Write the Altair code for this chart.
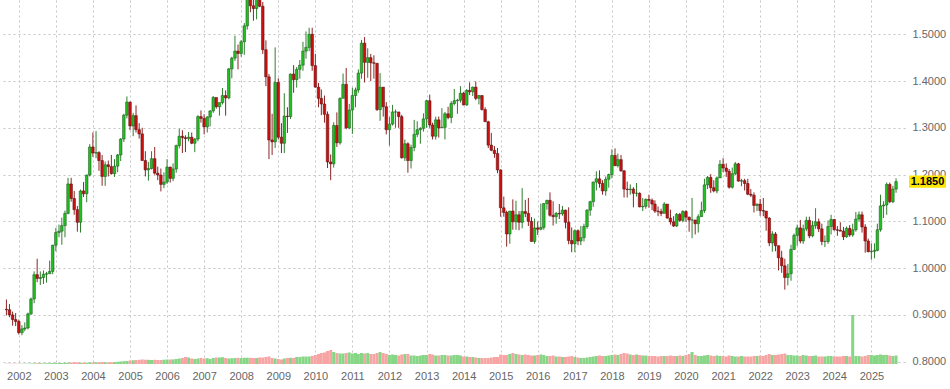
import altair as alt
import pandas as pd

# Monthly EUR/USD candles, Sep 2001 .. Sep 2025
FIRST_OPEN = 0.9120
CLOSE = [
    0.9110, 0.9000, 0.8900, 0.8860,  # 2001 Sep-Dec
    0.8620, 0.8700, 0.8720, 0.9020, 0.9340, 0.9860, 0.9780, 0.9800, 0.9870, 0.9880, 0.9930, 1.0490,
    1.0760, 1.0790, 1.0910, 1.1170, 1.1800, 1.1490, 1.1250, 1.0980, 1.1650, 1.1590, 1.1990, 1.2590,
    1.2460, 1.2470, 1.2300, 1.1960, 1.2210, 1.2170, 1.2020, 1.2180, 1.2420, 1.2760, 1.3270, 1.3550,
    1.3040, 1.3260, 1.2960, 1.2870, 1.2300, 1.2100, 1.2130, 1.2340, 1.2030, 1.1990, 1.1790, 1.1840,
    1.2160, 1.1920, 1.2120, 1.2620, 1.2820, 1.2790, 1.2770, 1.2800, 1.2670, 1.2760, 1.3240, 1.3200,
    1.3020, 1.3230, 1.3360, 1.3650, 1.3450, 1.3540, 1.3690, 1.3640, 1.4260, 1.4490, 1.4640, 1.4590,
    1.4840, 1.5180, 1.5790, 1.5610, 1.5550, 1.5760, 1.5600, 1.4670, 1.4090, 1.2740, 1.2700, 1.3970,
    1.2800, 1.2670, 1.3250, 1.3240, 1.4150, 1.4030, 1.4250, 1.4340, 1.4640, 1.4720, 1.5000, 1.4330,
    1.3870, 1.3630, 1.3510, 1.3290, 1.2270, 1.2230, 1.3050, 1.2680, 1.3630, 1.3930, 1.3000, 1.3380,
    1.3690, 1.3810, 1.4170, 1.4810, 1.4400, 1.4500, 1.4390, 1.4380, 1.3390, 1.3870, 1.3450, 1.2960,
    1.3080, 1.3340, 1.3340, 1.3240, 1.2360, 1.2660, 1.2300, 1.2580, 1.2860, 1.2960, 1.2990, 1.3190,
    1.3580, 1.3060, 1.2820, 1.3170, 1.3000, 1.3010, 1.3300, 1.3220, 1.3520, 1.3580, 1.3590, 1.3740,
    1.3490, 1.3800, 1.3770, 1.3870, 1.3630, 1.3690, 1.3390, 1.3130, 1.2630, 1.2520, 1.2450, 1.2100,
    1.1290, 1.1190, 1.0730, 1.1220, 1.0990, 1.1140, 1.0980, 1.1210, 1.1170, 1.1000, 1.0570, 1.0860,
    1.0830, 1.0870, 1.1380, 1.1450, 1.1130, 1.1100, 1.1170, 1.1160, 1.1240, 1.0980, 1.0590, 1.0520,
    1.0800, 1.0580, 1.0650, 1.0890, 1.1240, 1.1420, 1.1840, 1.1910, 1.1810, 1.1650, 1.1900, 1.2000,
    1.2410, 1.2190, 1.2320, 1.2080, 1.1690, 1.1680, 1.1690, 1.1600, 1.1600, 1.1310, 1.1320, 1.1470,
    1.1450, 1.1370, 1.1220, 1.1210, 1.1170, 1.1370, 1.1070, 1.0990, 1.0900, 1.1150, 1.1020, 1.1210,
    1.1090, 1.1030, 1.1030, 1.0950, 1.1100, 1.1230, 1.1780, 1.1940, 1.1720, 1.1650, 1.1930, 1.2220,
    1.2140, 1.2070, 1.1730, 1.2020, 1.2230, 1.1860, 1.1870, 1.1810, 1.1580, 1.1560, 1.1340, 1.1370,
    1.1230, 1.1220, 1.1070, 1.0540, 1.0730, 1.0480, 1.0220, 1.0050, 0.9800, 0.9880, 1.0400, 1.0700,
    1.0860, 1.0580, 1.0840, 1.1020, 1.0690, 1.0910, 1.0990, 1.0840, 1.0570, 1.0570, 1.0890, 1.1040,
    1.0820, 1.0810, 1.0790, 1.0670, 1.0850, 1.0710, 1.0820, 1.1050, 1.1140, 1.0880, 1.0580, 1.0350,
    1.0360, 1.0380, 1.0820, 1.1330, 1.1350, 1.1790, 1.1420, 1.1690, 1.1850,
]
HIGH = [
    0.9330, 0.9230, 0.9070, 0.9040,
    0.8900, 0.8780, 0.8840, 0.9050, 0.9370, 0.9930, 1.0200, 0.9930, 0.9950, 0.9920, 1.0160, 1.0500,
    1.0860, 1.0930, 1.1080, 1.1230, 1.1930, 1.1930, 1.1650, 1.1330, 1.1680, 1.1840, 1.2000, 1.2650,
    1.2900, 1.2930, 1.2500, 1.2420, 1.2280, 1.2300, 1.2420, 1.2330, 1.2440, 1.2780, 1.3300, 1.3670,
    1.3560, 1.3320, 1.3480, 1.3100, 1.3000, 1.2500, 1.2270, 1.2500, 1.2590, 1.2170, 1.2130, 1.2050,
    1.2330, 1.2170, 1.2240, 1.2640, 1.2980, 1.2950, 1.2840, 1.2910, 1.2900, 1.2780, 1.3270, 1.3370,
    1.3290, 1.3250, 1.3380, 1.3680, 1.3610, 1.3540, 1.3850, 1.3800, 1.4280, 1.4520, 1.4970, 1.4780,
    1.4880, 1.5240, 1.5900, 1.6020, 1.5820, 1.5840, 1.6040, 1.5690, 1.4870, 1.4150, 1.3300, 1.4720,
    1.4060, 1.3100, 1.3740, 1.3440, 1.4160, 1.4340, 1.4300, 1.4450, 1.4840, 1.5060, 1.5140, 1.5140,
    1.4580, 1.3960, 1.3820, 1.3690, 1.3350, 1.2430, 1.3120, 1.3330, 1.3650, 1.4160, 1.4280, 1.3510,
    1.3860, 1.3860, 1.4250, 1.4880, 1.4940, 1.4700, 1.4580, 1.4550, 1.4380, 1.4170, 1.3870, 1.3550,
    1.3230, 1.3490, 1.3390, 1.3280, 1.3280, 1.2750, 1.2690, 1.2640, 1.3170, 1.3140, 1.3010, 1.3310,
    1.3600, 1.3710, 1.3110, 1.3240, 1.3240, 1.3420, 1.3340, 1.3450, 1.3570, 1.3830, 1.3620, 1.3890,
    1.3770, 1.3830, 1.3970, 1.3880, 1.3990, 1.3700, 1.3700, 1.3440, 1.3150, 1.2890, 1.2610, 1.2570,
    1.2110, 1.1530, 1.1230, 1.1220, 1.1470, 1.1440, 1.1220, 1.1710, 1.1460, 1.1500, 1.1090, 1.1060,
    1.1000, 1.1380, 1.1390, 1.1460, 1.1620, 1.1430, 1.1200, 1.1370, 1.1330, 1.1250, 1.1300, 1.0870,
    1.0830, 1.0830, 1.0900, 1.0950, 1.1260, 1.1440, 1.1850, 1.2070, 1.2090, 1.1880, 1.1960, 1.2020,
    1.2540, 1.2560, 1.2450, 1.2420, 1.2100, 1.1850, 1.1790, 1.1730, 1.1820, 1.1620, 1.1500, 1.1490,
    1.1570, 1.1490, 1.1450, 1.1320, 1.1270, 1.1410, 1.1290, 1.1250, 1.1110, 1.1180, 1.1180, 1.1240,
    1.1240, 1.1100, 1.1500, 1.1000, 1.1150, 1.1420, 1.1910, 1.1970, 1.2010, 1.1880, 1.1960, 1.2310,
    1.2350, 1.2240, 1.2120, 1.2150, 1.2270, 1.2250, 1.1910, 1.1910, 1.1910, 1.1690, 1.1620, 1.1380,
    1.1480, 1.1500, 1.1190, 1.1090, 1.0790, 1.0770, 1.0480, 1.0370, 1.0200, 1.0090, 1.0500, 1.0740,
    1.0930, 1.1030, 1.0930, 1.1100, 1.1100, 1.1010, 1.1280, 1.1060, 1.0950, 1.0700, 1.1020, 1.1140,
    1.1050, 1.0900, 1.0980, 1.0880, 1.0890, 1.0920, 1.0950, 1.1200, 1.1210, 1.1210, 1.0940, 1.0630,
    1.0530, 1.0530, 1.0950, 1.1570, 1.1430, 1.1830, 1.1830, 1.1760, 1.1920,
]
LOW = [
    0.8990, 0.8950, 0.8770, 0.8760,
    0.8580, 0.8565, 0.8650, 0.8690, 0.9000, 0.9250, 0.9700, 0.9640, 0.9660, 0.9690, 0.9880, 0.9870,
    1.0360, 1.0660, 1.0500, 1.0660, 1.1150, 1.1420, 1.1140, 1.0780, 1.0760, 1.1520, 1.1410, 1.1960,
    1.2380, 1.2350, 1.2080, 1.1760, 1.1760, 1.1960, 1.2000, 1.1950, 1.2050, 1.2290, 1.2700, 1.3200,
    1.2950, 1.2820, 1.2900, 1.2770, 1.2300, 1.1960, 1.1870, 1.2110, 1.2000, 1.1880, 1.1640, 1.1710,
    1.1800, 1.1830, 1.1860, 1.2040, 1.2560, 1.2460, 1.2480, 1.2710, 1.2650, 1.2480, 1.2710, 1.3110,
    1.2860, 1.2900, 1.3030, 1.3320, 1.3410, 1.3260, 1.3500, 1.3260, 1.3610, 1.4060, 1.4430, 1.4250,
    1.4520, 1.4560, 1.5100, 1.5470, 1.5290, 1.5320, 1.5580, 1.4580, 1.3890, 1.2330, 1.2420, 1.2570,
    1.2750, 1.2460, 1.2460, 1.2890, 1.3190, 1.3750, 1.3860, 1.4050, 1.4220, 1.4480, 1.4640, 1.4220,
    1.3860, 1.3440, 1.3270, 1.3110, 1.2140, 1.1880, 1.2150, 1.2590, 1.2640, 1.3690, 1.2970, 1.2970,
    1.2870, 1.3440, 1.3750, 1.4050, 1.3970, 1.4070, 1.4000, 1.4050, 1.3360, 1.3150, 1.3240, 1.2860,
    1.2620, 1.3050, 1.3000, 1.3000, 1.2340, 1.2290, 1.2040, 1.2130, 1.2500, 1.2800, 1.2660, 1.2920,
    1.3000, 1.3000, 1.2750, 1.2750, 1.2790, 1.3000, 1.2750, 1.3180, 1.3100, 1.3480, 1.3300, 1.3540,
    1.3480, 1.3470, 1.3700, 1.3680, 1.3590, 1.3500, 1.3370, 1.3130, 1.2570, 1.2500, 1.2360, 1.2030,
    1.1100, 1.1100, 1.0460, 1.0520, 1.0820, 1.0820, 1.0810, 1.0850, 1.1090, 1.0900, 1.0570, 1.0520,
    1.0710, 1.0810, 1.0820, 1.1250, 1.1100, 1.0910, 1.0950, 1.1050, 1.1120, 1.0850, 1.0510, 1.0340,
    1.0340, 1.0490, 1.0490, 1.0570, 1.0840, 1.1120, 1.1310, 1.1660, 1.1720, 1.1570, 1.1550, 1.1720,
    1.1920, 1.2180, 1.2150, 1.2060, 1.1510, 1.1510, 1.1570, 1.1300, 1.1530, 1.1300, 1.1220, 1.1270,
    1.1290, 1.1240, 1.1180, 1.1110, 1.1110, 1.1180, 1.1060, 1.0930, 1.0880, 1.0880, 1.0990, 1.0980,
    1.0990, 1.0780, 1.0640, 1.0720, 1.0760, 1.1100, 1.1180, 1.1690, 1.1610, 1.1620, 1.1600, 1.1930,
    1.2050, 1.1950, 1.1700, 1.1700, 1.1990, 1.1850, 1.1750, 1.1660, 1.1560, 1.1520, 1.1190, 1.1220,
    1.1120, 1.1110, 1.0800, 1.0470, 1.0350, 1.0360, 0.9950, 0.9900, 0.9540, 0.9630, 0.9730, 1.0390,
    1.0480, 1.0530, 1.0520, 1.0790, 1.0640, 1.0660, 1.0840, 1.0770, 1.0490, 1.0450, 1.0520, 1.0720,
    1.0800, 1.0690, 1.0790, 1.0600, 1.0650, 1.0670, 1.0670, 1.0780, 1.1000, 1.0760, 1.0330, 1.0340,
    1.0180, 1.0210, 1.0360, 1.0780, 1.1070, 1.1140, 1.1390, 1.1390, 1.1610,
]
# relative monthly volume (arbitrary units)
VOLUME = [
    0.3, 0.3, 0.3, 0.3,
    0.3, 0.3, 0.3, 0.4, 0.5, 0.6, 0.8, 0.8, 0.6, 0.7, 0.8, 0.9,
    1.0, 1.0, 1.0, 1.2, 1.3, 1.5, 1.8, 1.6, 1.2, 1.2, 1.3, 1.5,
    1.6, 1.7, 1.8, 2.0, 1.8, 1.6, 1.8, 2.0, 2.2, 2.5, 2.8, 3.0,
    3.5, 3.8, 4.0, 4.2, 4.5, 4.3, 4.2, 4.0, 4.2, 4.0, 4.0, 4.3,
    4.5, 4.5, 4.6, 5.0, 5.5, 6.0, 7.0, 6.5, 5.5, 5.0, 5.5, 6.0,
    5.5, 5.8, 5.0, 6.0, 6.5, 6.5, 6.8, 6.0, 5.5, 5.8, 6.0, 6.2,
    6.0, 6.2, 6.3, 6.2, 6.0, 6.0, 6.5, 6.5, 7.0, 7.5, 6.0, 5.5,
    5.0, 4.5, 5.5, 6.0, 6.2, 6.0, 7.0, 7.0, 7.5, 7.5, 7.5, 8.0,
    9.0, 10.0, 11.0, 11.5, 13.0, 14.0, 12.0, 11.0, 10.5, 10.5, 11.0, 11.5,
    10.5, 11.0, 10.0, 11.0, 10.5, 11.0, 10.0, 10.0, 11.0, 12.0, 11.0, 10.0,
    9.0, 9.5, 9.0, 8.5, 9.5, 10.0, 10.0, 8.5, 8.5, 8.0, 8.5, 9.0,
    9.0, 10.0, 9.5, 8.5, 8.5, 9.0, 9.0, 8.5, 8.5, 9.0, 9.0, 8.5,
    7.5, 7.5, 7.0, 7.0, 6.5, 6.0, 6.0, 6.0, 6.0, 6.5, 7.0, 7.0,
    9.5, 9.0, 9.0, 10.0, 11.0, 10.0, 9.5, 9.0, 9.5, 9.0, 8.5, 8.5,
    9.0, 9.5, 9.0, 8.0, 8.0, 8.5, 7.5, 7.5, 7.0, 7.0, 7.5, 8.0,
    7.0, 6.5, 6.0, 6.0, 6.5, 7.0, 7.5, 8.0, 8.5, 8.0, 8.0, 8.5,
    9.0, 9.5, 9.0, 10.0, 11.0, 10.5, 9.5, 9.0, 9.5, 9.0, 8.5, 8.5,
    8.0, 8.0, 8.0, 7.5, 8.0, 8.0, 8.0, 8.5, 8.0, 8.0, 8.5, 8.0,
    9.0, 10.0, 12.0, 9.0, 8.0, 8.0, 8.5, 9.0, 8.5, 8.0, 8.5, 8.0,
    8.0, 7.5, 8.5, 8.0, 7.5, 7.5, 8.0, 7.5, 7.5, 7.5, 8.0, 8.0,
    8.5, 8.0, 9.0, 10.0, 9.0, 9.0, 9.5, 10.0, 10.5, 9.0, 9.0, 8.5,
    8.5, 8.0, 9.0, 8.5, 8.0, 8.0, 8.5, 7.5, 7.5, 7.5, 8.0, 8.0,
    7.5, 7.5, 7.5, 8.0, 8.0, 7.5, 49.0, 8.0, 8.0, 7.5, 8.0, 9.0,
    9.0, 8.5, 9.0, 9.5, 9.0, 9.0, 8.5, 8.0, 8.5,
]
LAST_PRICE = 1.1850
Y_TICKS = [0.8, 0.9, 1.0, 1.1, 1.2, 1.3, 1.4, 1.5]
YEARS = list(range(2002, 2026))

n = len(CLOSE)
dates = pd.date_range("2001-09-01", periods=n, freq="MS")
opens = [FIRST_OPEN] + CLOSE[:-1]
df = pd.DataFrame({
    "date": dates, "open": opens, "close": CLOSE, "high": HIGH, "low": LOW, "vol": VOLUME,
})
up = df["close"] >= df["open"]
df["body"] = ["#1fc01f" if u else "#cc1010" for u in up]
df["edge"] = ["#1e4d1e" if u else "#4d1010" for u in up]
df["wick"] = ["#2f7f2f" if u else "#8a2525" for u in up]
df["vcol"] = ["#86d686" if u else "#f7a4a4" for u in up]

W, H = 905, 364
xscale = alt.Scale(domain=[alt.DateTime(year=2001, month=8, date=18),
                           alt.DateTime(year=2025, month=10, date=10)])
yscale = alt.Scale(domain=[0.7950, 1.5733], nice=False, zero=False)

xaxis = alt.Axis(values=[alt.DateTime(year=y, month=1, date=1) for y in YEARS], format="%Y",
                 title=None, ticks=False, domain=False, labelOverlap=False, labelFlush=False,
                 labelPadding=6, grid=True)
yaxis = alt.Axis(values=Y_TICKS, format=".4f", orient="right", title=None, ticks=False,
                 domain=False, labelPadding=7, grid=True)

X = alt.X("date:T", scale=xscale, axis=xaxis)
base = alt.Chart(df)

vol = base.mark_bar(size=3, clip=True).encode(
    x=X,
    y=alt.Y("vol:Q", scale=alt.Scale(domain=[0, H], nice=False), axis=None),
    color=alt.Color("vcol:N", scale=None),
)

wick = base.mark_rule(strokeWidth=1, clip=True).encode(
    x=X,
    y=alt.Y("low:Q", scale=yscale, axis=yaxis),
    y2="high:Q",
    color=alt.Color("wick:N", scale=None),
)
body = base.mark_bar(size=2.6, clip=True, strokeWidth=0.5).encode(
    x=X,
    y=alt.Y("open:Q", scale=yscale, axis=yaxis),
    y2="close:Q",
    fill=alt.Fill("body:N", scale=None),
    stroke=alt.Stroke("edge:N", scale=None),
)

lab = pd.DataFrame({"p": [LAST_PRICE], "t": [f"{LAST_PRICE:.4f}"]})
box = alt.Chart(lab).mark_point(
    shape="M-1,-0.33L1,-0.33L1,0.33L-1,0.33Z", size=1369, filled=True, fill="#ffe600",
    opacity=1, strokeWidth=0,
).encode(x=alt.value(927.5), y=alt.Y("p:Q", scale=yscale, axis=yaxis))
txt = alt.Chart(lab).mark_text(
    fontWeight="bold", fontSize=11, color="#000", align="center", baseline="middle",
    font="Liberation Sans",
).encode(x=alt.value(927.5), y=alt.Y("p:Q", scale=yscale, axis=yaxis), text="t:N")

price = alt.layer(wick, body, box, txt)
chart = alt.layer(vol, price).resolve_scale(y="independent").properties(
    width=W, height=H, autosize="none",
    padding={"left": 0, "top": 0, "right": 45, "bottom": 25},
    background="white",
).configure_view(stroke=None).configure_axis(
    labelFont="Liberation Sans", labelFontSize=11, labelColor="#666",
    gridColor="#c4c4c4", gridDash=[2, 3], gridWidth=1,
)

chart.save("out.html", embed_options={"renderer": "svg", "actions": False})
